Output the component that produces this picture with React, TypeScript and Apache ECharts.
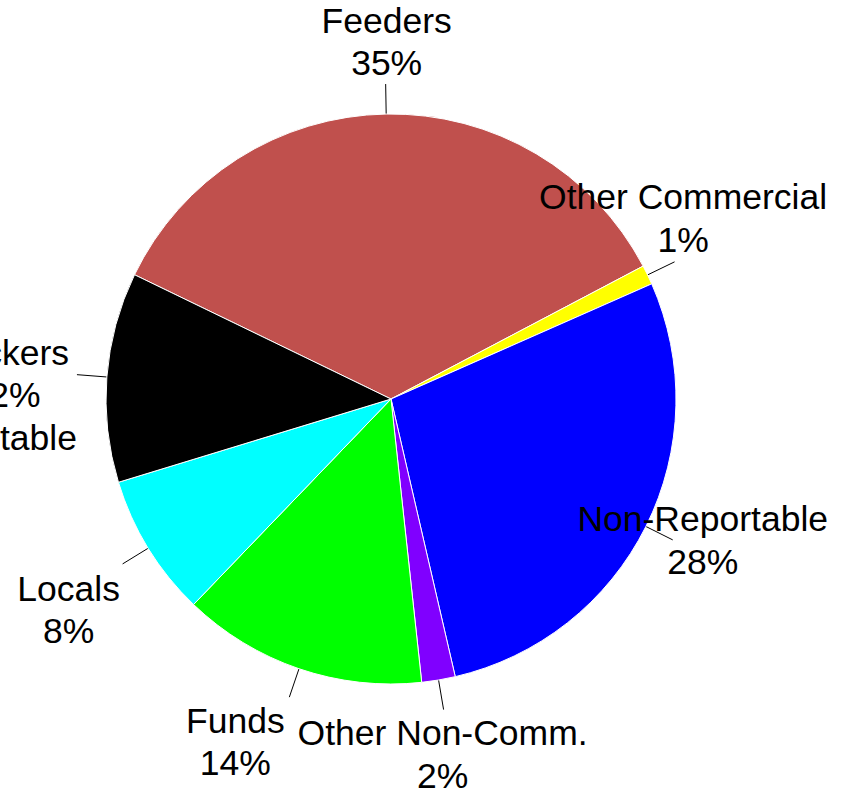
import React, { useEffect, useRef } from 'react';
import * as echarts from 'echarts';

// ---- data ----
const categories = ['Feeders', 'Other Commercial', 'Non-Reportable', 'Other Non-Comm.', 'Funds', 'Locals', 'Packers'];
const shares = [35.1, 1.1, 28.0, 1.9, 13.9, 8.1, 11.9];
const extraLines = ['', '', '', '', '', '', 'Quotable'];

// ---- styles / layout ----
const colors = ['#C0504D', '#FFFF00', '#0000FF', '#8000FF', '#00FF00', '#00FFFF', '#000000'];
// label-centre offset from the end of each leader line
const labelOffsets: number[][] = [
  [1, -42],
  [8.5, -43.5],
  [30, 0.5],
  [-1, 45],
  [-54, 45],
  [-54, 46],
  [-72, 20.5],
];

export default function App() {
  const ref = useRef<HTMLDivElement>(null);
  useEffect(() => {
    if (!ref.current) return;
    const chart = echarts.init(ref.current, null, { renderer: 'svg' });
    const data = categories.map((name, i) => ({
      name,
      value: shares[i],
      itemStyle: { color: colors[i] },
    }));
    chart.setOption({
      animation: false,
      backgroundColor: '#ffffff',
      series: [
        {
          type: 'pie',
          center: [391, 399],
          radius: 285,
          startAngle: 154.15,
          clockwise: true,
          avoidLabelOverlap: false,
          data,
          itemStyle: { borderColor: '#ffffff', borderWidth: 1 },
          emphasis: { disabled: true },
          label: {
            show: true,
            position: 'outside',
            fontFamily: '"Liberation Sans", Arial, sans-serif',
            fontSize: 35.5,
            lineHeight: 42.5,
            color: '#000000',
            formatter: (p: any) => {
              const extra = extraLines[p.dataIndex];
              return `${p.name}\n${Math.round(p.percent)}%` + (extra ? `\n${extra}` : '');
            },
          },
          labelLine: {
            show: true,
            length: 30,
            length2: 0,
            smooth: false,
            lineStyle: { color: '#000000', width: 1 },
          },
          labelLayout: (params: any) => {
            const pts = params.labelLinePoints;
            if (!pts) return {};
            const end = pts[1];
            const off = labelOffsets[params.dataIndex];
            return {
              x: end[0] + off[0],
              y: end[1] + off[1],
              align: 'center',
              verticalAlign: 'middle',
              labelLinePoints: pts,
            };
          },
        },
      ],
    });
    return () => chart.dispose();
  }, []);
  return (
    <div
      ref={ref}
      style={{ position: 'fixed', left: 0, top: 0, width: 850, height: 793 }}
    />
  );
}
